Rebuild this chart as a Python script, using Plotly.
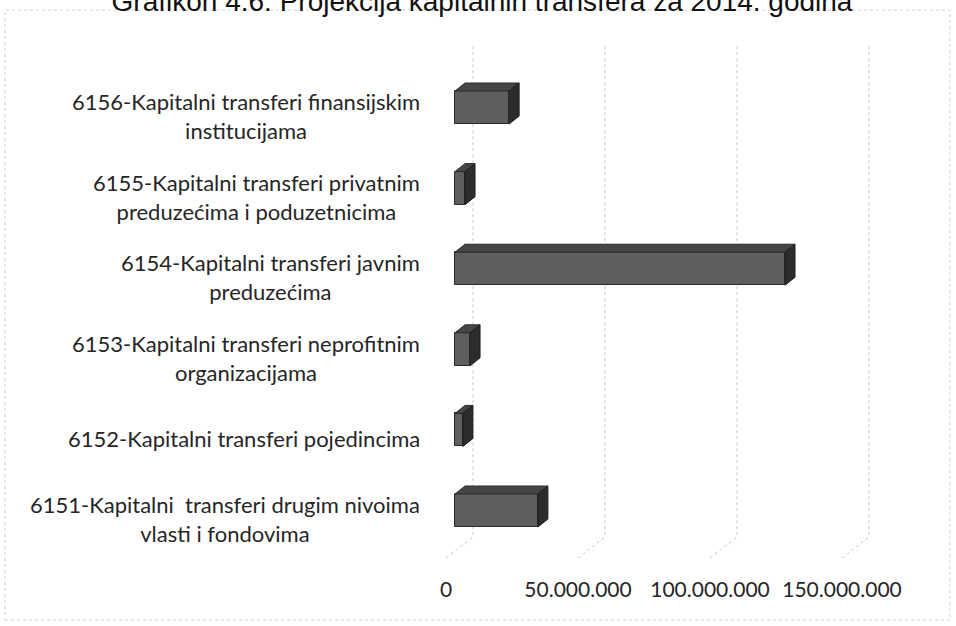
import plotly.graph_objects as go

# Data
categories = [
    "6151-Kapitalni  transferi drugim nivoima<br>vlasti i fondovima",
    "6152-Kapitalni transferi pojedincima",
    "6153-Kapitalni transferi neprofitnim<br>organizacijama",
    "6154-Kapitalni transferi javnim<br>preduzećima",
    "6155-Kapitalni transferi privatnim<br>preduzećima i poduzetnicima",
    "6156-Kapitalni transferi finansijskim<br>institucijama",
]
values = [31.4e6, 3.0e6, 5.7e6, 125.0e6, 3.8e6, 20.5e6]
tick_values = [0, 50e6, 100e6, 150e6]
title_text = "Grafikon 4.6: Projekcija kapitalnih transfera za 2014. godina"

# 3D-look styling (pseudo depth)
W, H = 956, 626
ML, MR, MT, MB = 430, 56, 40, 56
PX_PER_UNIT = 132 / 50e6
CAT_PX = 80.6
X_MIN = -16 / PX_PER_UNIT
X_MAX = X_MIN + (W - ML - MR) / PX_PER_UNIT
Y_MIN = -(570 - 519) / CAT_PX
Y_MAX = (519 - 40) / CAT_PX

WALL_DX = 27 / PX_PER_UNIT      # floor depth in x units
WALL_DY = 21 / CAT_PX           # floor depth in category units
FLOOR_Y = -39 / CAT_PX
WALL_TOP = (519 - 45) / CAT_PX
BAR_BASE = 9 / PX_PER_UNIT
BAR_DX = 10 / PX_PER_UNIT
BAR_DY = 8 / CAT_PX
BAR_OFFSET = -0.1
BAR_WIDTH = 0.41

pos = list(range(len(categories)))
fig = go.Figure()

# back wall gridlines with floor diagonals (kept below the bars)
for t in tick_values:
    fig.add_shape(
        type="path", xref="x", yref="y", layer="below",
        path=f"M {t},{FLOOR_Y} L {t + WALL_DX},{FLOOR_Y + WALL_DY} L {t + WALL_DX},{WALL_TOP}",
        line=dict(color="#c8c8c8", width=1, dash="dot")
    )

# front faces
fig.add_trace(go.Bar(
    x=values, y=pos, base=BAR_BASE, orientation="h",
    offset=BAR_OFFSET, width=BAR_WIDTH,
    marker=dict(color="#5e5e5e", line=dict(color="#2a2a2a", width=1)),
    showlegend=False
))

# top and side faces
tx, ty, sx, sy = [], [], [], []
for p, v in zip(pos, values):
    bot = p + BAR_OFFSET
    top = bot + BAR_WIDTH
    x0, x1 = BAR_BASE, BAR_BASE + v
    tx += [x0, x1, x1 + BAR_DX, x0 + BAR_DX, x0, None]
    ty += [top, top, top + BAR_DY, top + BAR_DY, top, None]
    sx += [x1, x1 + BAR_DX, x1 + BAR_DX, x1, x1, None]
    sy += [bot, bot + BAR_DY, top + BAR_DY, top, bot, None]
fig.add_trace(go.Scatter(
    x=tx, y=ty, mode="lines", fill="toself", fillcolor="#454545",
    line=dict(color="#2a2a2a", width=1),
    showlegend=False, hoverinfo="skip"
))
fig.add_trace(go.Scatter(
    x=sx, y=sy, mode="lines", fill="toself", fillcolor="#2c2c2c",
    line=dict(color="#1e1e1e", width=1),
    showlegend=False, hoverinfo="skip"
))

# category labels, each line centred
for p, c in zip(pos, categories):
    fig.add_annotation(
        x=-((ML - 422) / (W - ML - MR)), xref="paper", xanchor="right",
        y=p, yref="y", yanchor="middle",
        text=c, showarrow=False, align="center",
        font=dict(family="Lato", size=22, color="#262626")
    )

# chart border
fig.add_shape(
    type="rect", xref="paper", yref="paper",
    x0=-(ML - 5) / (W - ML - MR), x1=1 + (MR - 6) / (W - ML - MR),
    y0=-(MB - 6) / (H - MT - MB), y1=1 + (MT - 10) / (H - MT - MB),
    line=dict(color="#d0d0d0", width=1, dash="dot")
)

fig.update_layout(
    width=W, height=H,
    margin=dict(l=ML, r=MR, t=MT, b=MB),
    title=dict(
        text=title_text, x=482 / W, xanchor="center",
        y=1 - 1 / H, yref="container", yanchor="middle",
        font=dict(family="Liberation Sans", size=28, color="#111111")
    ),
    separators=",.",
    plot_bgcolor="white", paper_bgcolor="white",
    xaxis=dict(
        range=[X_MIN, X_MAX], tickvals=tick_values, tickformat=",d",
        showgrid=False, zeroline=False, showline=False, ticks="",
        tickfont=dict(family="Lato", size=21, color="#262626"),
        ticklabelstandoff=5
    ),
    yaxis=dict(
        range=[Y_MIN, Y_MAX], showgrid=False, zeroline=False,
        showline=False, showticklabels=False, ticks=""
    ),
    bargap=0
)

fig.write_html(
    "out.html",
    config={"displayModeBar": False},
    post_script="document.body.style.margin='0';"
)
